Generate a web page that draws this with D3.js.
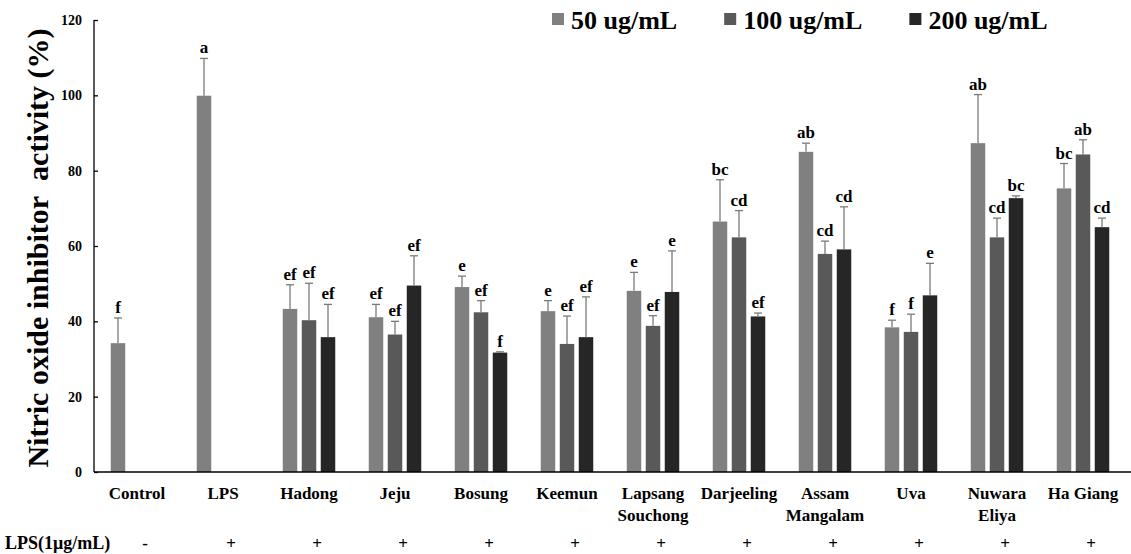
<!DOCTYPE html>
<html>
<head>
<meta charset="utf-8">
<script src="https://cdn.jsdelivr.net/npm/d3@7/dist/d3.min.js"></script>
<style>
  html, body { margin: 0; padding: 0; background: #fff; }
  svg { display: block; }
  text { font-family: "Liberation Serif", "Times New Roman", serif; font-weight: bold; fill: #000; }
</style>
</head>
<body>
<svg id="chart" width="1131" height="554"></svg>
<script>
// ---------- data ----------
const categories = ["Control", "LPS", "Hadong", "Jeju", "Bosung", "Keemun", "Lapsang\nSouchong",
                    "Darjeeling", "Assam\nMangalam", "Uva", "Nuwara\nEliya", "Ha Giang"];
const seriesNames = ["50 ug/mL", "100 ug/mL", "200 ug/mL"];
const values50  = [34.2, 99.9, 43.3, 41.1, 49.1, 42.7, 48.1, 66.5, 85.0, 38.4, 87.3, 75.3];
const errors50  = [6.7, 9.9, 6.4, 3.4, 2.9, 2.8, 4.9, 11.1, 2.3, 1.9, 12.9, 6.6];
const letters50 = ["f", "a", "ef", "ef", "e", "e", "e", "bc", "ab", "f", "ab", "bc"];
const values100  = [null, null, 40.3, 36.5, 42.4, 34.0, 38.8, 62.3, 57.9, 37.2, 62.3, 84.3];
const errors100  = [null, null, 9.8, 3.5, 3.1, 7.4, 2.7, 7.1, 3.4, 4.7, 5.1, 3.9];
const letters100 = [null, null, "ef", "ef", "ef", "ef", "ef", "cd", "cd", "f", "cd", "ab"];
const values200  = [null, null, 35.8, 49.5, 31.7, 35.8, 47.8, 41.3, 59.1, 46.9, 72.7, 65.0];
const errors200  = [null, null, 8.7, 7.9, 0.2, 10.7, 10.9, 0.9, 11.3, 8.5, 0.6, 2.4];
const letters200 = [null, null, "ef", "ef", "f", "ef", "e", "ef", "cd", "e", "bc", "cd"];
const lpsSigns = ["-", "+", "+", "+", "+", "+", "+", "+", "+", "+", "+", "+"];
const yTicks = [0, 20, 40, 60, 80, 100, 120];
const yTitle = "Nitric oxide inhibitor\u00a0\u00a0activity (%)";
const lpsRowLabel = "LPS(1\u03bcg/mL)";
const colors = ["#808080", "#595959", "#262626"];

// ---------- build rows ----------
const seriesValues = [values50, values100, values200];
const seriesErrors = [errors50, errors100, errors200];
const seriesLetters = [letters50, letters100, letters200];
const bars = [];
categories.forEach((c, i) => {
  seriesNames.forEach((s, j) => {
    const v = seriesValues[j][i];
    if (v != null) bars.push({cat: c, series: s, si: j, value: v, err: seriesErrors[j][i], letter: seriesLetters[j][i]});
  });
});

// ---------- layout ----------
const svg = d3.select("#chart");
const pLeft = 94, pRight = 1126, pTop = 20, pBottom = 472;

const x0 = d3.scaleBand().domain(categories).range([pLeft, pRight]).paddingInner(0).paddingOuter(0);
const step = x0.bandwidth();
const x1 = d3.scaleBand().domain(seriesNames)
  .range([step / 2 - 26.25, step / 2 + 26.25]).paddingInner(0.237).paddingOuter(0);
const y = d3.scaleLinear().domain([0, 120]).range([pBottom, pTop]);

// bars
svg.append("g").selectAll("rect").data(bars).join("rect")
  .attr("x", d => x0(d.cat) + x1(d.series))
  .attr("y", d => y(d.value))
  .attr("width", x1.bandwidth())
  .attr("height", d => y(0) - y(d.value))
  .attr("fill", d => colors[d.si]);

// error bars (upward only)
const eg = svg.append("g").attr("stroke", "#7a7a7a").attr("stroke-width", 1.3);
bars.forEach(d => {
  const cx = x0(d.cat) + x1(d.series) + x1.bandwidth() / 2;
  const yt = y(d.value + d.err);
  eg.append("line").attr("x1", cx).attr("x2", cx).attr("y1", y(d.value)).attr("y2", yt);
  eg.append("line").attr("x1", cx - 4).attr("x2", cx + 4).attr("y1", yt).attr("y2", yt);
});

// significance letters
svg.append("g").selectAll("text").data(bars).join("text")
  .attr("x", d => x0(d.cat) + x1(d.series) + x1.bandwidth() / 2)
  .attr("y", d => y(d.value + d.err) - 5)
  .attr("text-anchor", "middle")
  .attr("font-size", 17)
  .text(d => d.letter);

// y axis
const yAxis = d3.axisLeft(y).tickValues(yTicks).tickSize(-4).tickPadding(12).tickFormat(d3.format("d"));
const ya = svg.append("g").attr("transform", `translate(${pLeft},0)`).call(yAxis);
ya.select(".domain").attr("stroke", "#000").attr("stroke-width", 1.3).attr("d", `M0,${pTop}V${pBottom}`);
ya.selectAll(".tick line").attr("stroke", "#000").attr("stroke-width", 1.3);
ya.selectAll(".tick text").attr("font-size", 14).attr("font-family", "Liberation Serif, serif")
  .attr("font-weight", "bold").attr("fill", "#000");

// x axis line
svg.append("line").attr("x1", pLeft).attr("x2", 1131).attr("y1", pBottom).attr("y2", pBottom)
  .attr("stroke", "#000").attr("stroke-width", 1.5);

// category labels
const cl = svg.append("g").selectAll("text").data(categories).join("text")
  .attr("x", d => x0(d) + step / 2)
  .attr("y", 499)
  .attr("text-anchor", "middle")
  .attr("font-size", 17);
cl.each(function(d) {
  const lines = d.split("\n");
  const t = d3.select(this);
  lines.forEach((ln, k) => {
    t.append("tspan").attr("x", x0(d) + step / 2).attr("dy", k === 0 ? 0 : 22).text(ln);
  });
});

// LPS row
svg.append("text").attr("x", 5).attr("y", 549).attr("font-size", 18).text(lpsRowLabel);
svg.append("g").selectAll("text").data(lpsSigns.map((s, i) => ({s, c: categories[i]}))).join("text")
  .attr("x", d => x0(d.c) + step / 2 + 8)
  .attr("y", 549)
  .attr("text-anchor", "middle")
  .attr("font-size", 17)
  .attr("font-weight", "normal")
  .text(d => d.s);

// y title
svg.append("text")
  .attr("transform", `translate(48,${(pTop + pBottom) / 2 + 2}) rotate(-90)`)
  .attr("text-anchor", "middle")
  .attr("font-size", 30)
  .text(yTitle);

// legend
const lg = svg.append("g");
let lx = 552;
seriesNames.forEach((s, j) => {
  lg.append("rect").attr("x", lx).attr("y", 13).attr("width", 12).attr("height", 12).attr("fill", colors[j]);
  const t = lg.append("text").attr("x", lx + 19).attr("y", 29).attr("font-size", 26).text(s);
  const w = t.node().getComputedTextLength();
  lx = lx + 19 + w + 47;
});
</script>
</body>
</html>
